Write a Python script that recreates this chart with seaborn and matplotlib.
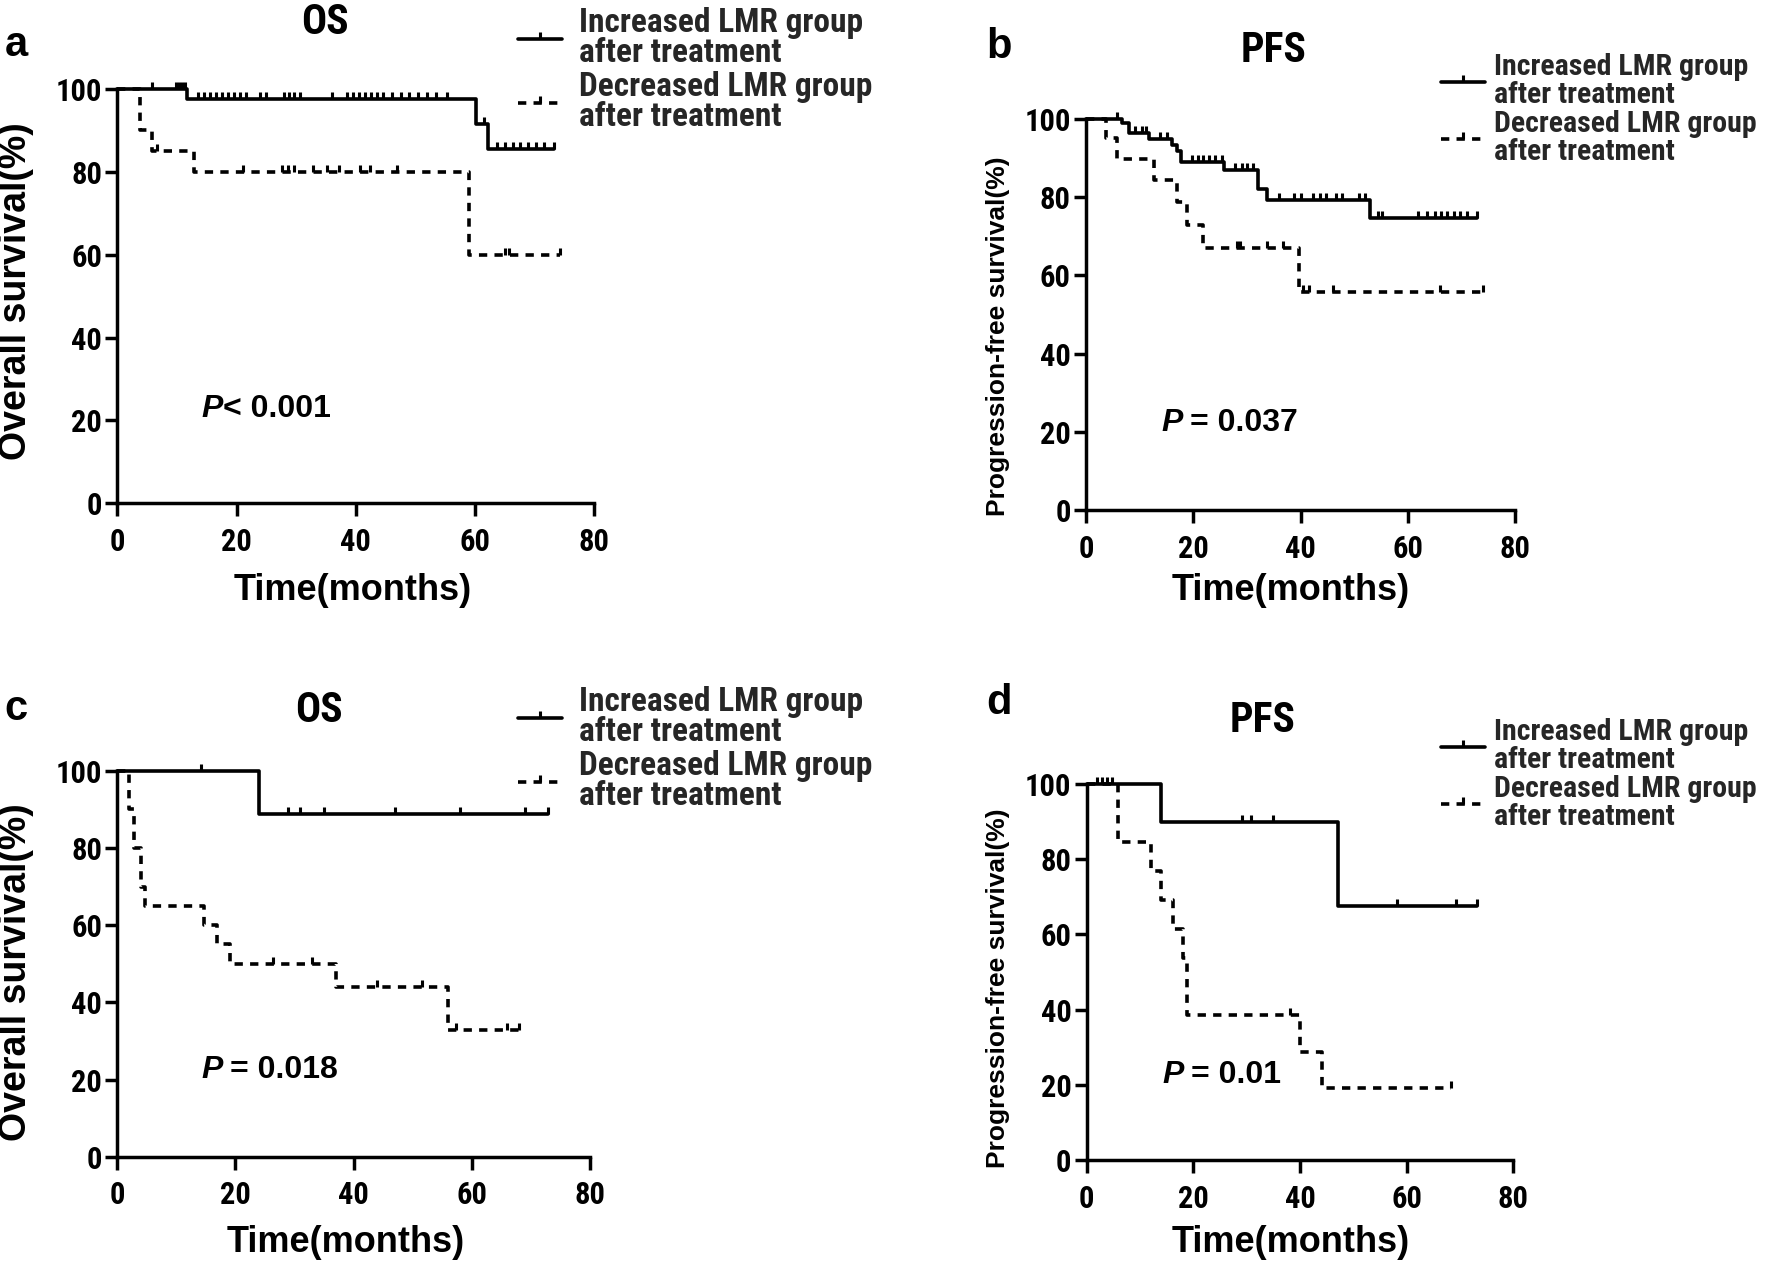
import numpy as np
import pandas as pd
import matplotlib
matplotlib.use("Agg")
import matplotlib.pyplot as plt
import seaborn as sns
from matplotlib.path import Path
from matplotlib.lines import Line2D
from matplotlib import font_manager as fm

# ---------------- data ----------------
x_ticks = [0, 20, 40, 60, 80]
y_ticks = [0, 20, 40, 60, 80, 100]
legend_labels = ["Increased LMR group\nafter treatment", "Decreased LMR group\nafter treatment"]
panel_letters = ["a", "b", "c", "d"]
panel_titles = ["OS", "PFS", "OS", "PFS"]
y_labels = ["Overall survival(%)", "Progression-free survival(%)",
            "Overall survival(%)", "Progression-free survival(%)"]
x_label = "Time(months)"
p_values = ["< 0.001", " = 0.037", " = 0.018", " = 0.01"]

# panel a (OS)
a_inc_time = [0, 11.7, 60.2, 62.1]
a_inc_surv = [100, 97.6, 91.5, 85.4]
a_inc_end = 73.2
a_inc_cens = [5.9, 9.8, 10.3, 10.8, 11.3, 13.6, 14.6, 15.6, 16.6, 17.6, 18.6, 19.6,
              20.6, 21.6, 24.0, 25.0, 27.9, 28.8, 29.7, 30.6, 36.0, 38.5, 39.5, 40.5,
              41.5, 42.5, 43.5, 44.5, 46.0, 47.5, 49.0, 50.5, 52.0, 53.5, 55.3, 61.5,
              63.6, 65.0, 66.3, 67.6, 68.9, 70.2, 71.5, 73.2]
a_dec_time = [0, 3.8, 5.9, 12.9, 59.0]
a_dec_surv = [100, 90, 85, 80, 60]
a_dec_end = 74.2
a_dec_cens = [6.6, 21.1, 27.7, 28.6, 29.6, 32.9, 35.1, 37.1, 40.7, 42.4, 46.9, 65.1, 65.7, 74.2]

# panel b (PFS)
b_inc_time = [0, 6.7, 8.1, 11.8, 16.0, 16.9, 17.7, 25.8, 32.0, 33.7, 53.0]
b_inc_surv = [100, 98.9, 96.3, 94.8, 93.4, 91.9, 89.1, 87.0, 82.0, 79.3, 74.6]
b_inc_end = 72.9
b_inc_cens = [5.8, 9.1, 10.4, 11.2, 13.8, 15.1, 19.7, 20.8, 21.9, 23.0, 24.1, 25.3,
              27.8, 29.0, 30.1, 31.1, 35.9, 38.7, 40.0, 42.4, 43.6, 44.8, 46.6, 47.8,
              50.9, 52.0, 54.5, 55.2, 62.0, 63.5, 65.0, 66.2, 67.4, 68.6, 69.8, 71.0, 72.9]
b_dec_time = [0, 3.7, 5.8, 12.7, 16.9, 18.9, 21.9, 39.8]
b_dec_surv = [100, 95.2, 89.8, 84.4, 78.9, 72.9, 66.9, 55.8]
b_dec_end = 74.1
b_dec_cens = [28.1, 28.7, 33.7, 36.8, 40.5, 41.5, 46.1, 66.0, 74.1]

# panel c (OS)
c_inc_time = [0, 24.0]
c_inc_surv = [100, 88.9]
c_inc_end = 72.9
c_inc_cens = [14.1, 28.9, 30.9, 34.9, 47.0, 58.0, 69.0, 72.9]
c_dec_time = [0, 1.9, 2.8, 4.0, 4.7, 14.7, 16.8, 19.1, 37.0, 56.0]
c_dec_surv = [100, 90, 80, 70, 65, 60, 55, 50, 43.9, 32.8]
c_dec_end = 68.0
c_dec_cens = [26.4, 32.9, 43.9, 51.5, 57.3, 65.9, 68.0]

# panel d (PFS)
d_inc_time = [0, 14.0, 47.1]
d_inc_surv = [100, 90, 67.5]
d_inc_end = 73.1
d_inc_cens = [1.9, 2.8, 3.75, 4.7, 29.1, 30.9, 35.0, 58.1, 69.3, 73.1]
d_dec_time = [0, 5.9, 12.0, 14.0, 16.1, 18.1, 18.9, 40.0, 44.1]
d_dec_surv = [100, 84.6, 76.9, 69.2, 61.5, 53.8, 38.5, 28.8, 19.2]
d_dec_end = 68.4
d_dec_cens = [38.1, 68.4]

# ---------------- style ----------------
sns.set_theme(style="white")
names = {f.name for f in fm.fontManager.ttflist}
COND = next((n for n in ["Liberation Sans Narrow", "Roboto Condensed", "DejaVu Sans Condensed"]
             if n in names), "Liberation Sans")
MAIN = "Liberation Sans" if "Liberation Sans" in names else "DejaVu Sans"
plt.rcParams["font.family"] = [MAIN, "DejaVu Sans"]

W, H = 1772, 1265
fig = plt.figure(figsize=(W / 100, H / 100), dpi=100)
fig.patch.set_facecolor("white")

LW = 2.6
SPW = 2.5
MS = 10
TICK = Path([(0, 0), (0, 1)], [Path.MOVETO, Path.LINETO])
DASH = (0, (2.3, 2.0))


def fx(px):
    return px / W


def fy(py):
    return 1 - py / H


def step_val(times, surv, x):
    v = surv[0]
    for t, s in zip(times, surv):
        if t <= x:
            v = s
    return v


def km(ax, times, surv, end, cens, dashed):
    df = pd.DataFrame({"t": list(times) + [end], "s": list(surv) + [surv[-1]]})
    sns.lineplot(data=df, x="t", y="s", ax=ax, drawstyle="steps-post", estimator=None,
                 sort=False, color="black", lw=LW, linestyle=DASH if dashed else "-",
                 clip_on=False)
    cy = [step_val(times, surv, c) for c in cens]
    ax.plot(cens, cy, ls="none", marker=TICK, ms=MS, mew=LW * 0.85, color="black",
            clip_on=False)


# axes rectangles in pixels: (x0, x80, y100, y0)
rects = [(117.3, 594.3, 89, 503.3), (1086, 1515, 119, 510),
         (117.3, 590, 770.7, 1156.7), (1086.7, 1513.3, 784, 1160)]
data = [
    (a_inc_time, a_inc_surv, a_inc_end, a_inc_cens, a_dec_time, a_dec_surv, a_dec_end, a_dec_cens),
    (b_inc_time, b_inc_surv, b_inc_end, b_inc_cens, b_dec_time, b_dec_surv, b_dec_end, b_dec_cens),
    (c_inc_time, c_inc_surv, c_inc_end, c_inc_cens, c_dec_time, c_dec_surv, c_dec_end, c_dec_cens),
    (d_inc_time, d_inc_surv, d_inc_end, d_inc_cens, d_dec_time, d_dec_surv, d_dec_end, d_dec_cens),
]
letter_pos = [(16, 45), (999, 47), (16, 709), (999, 703)]
title_pos = [(325, 23), (1274, 51), (319, 710), (1263, 721)]
ylab_pos = [(16, 291), (998, 336), (16, 972), (998, 988)]
ylab_size = [27, 19, 27, 19]
xlab_pos = [(353, 590), (1291, 591), (346, 1242), (1291, 1242)]
p_pos = [(201.7, 409), (1161.7, 422.5), (201.7, 1070), (1162.7, 1075)]
leg_pos = [(518, 7), (1441, 53), (518, 686), (1441, 718)]
leg_textpad = [0.5, 0.3, 0.5, 0.3]
leg_fs = [24, 21.5, 24, 21.5]
leg_ls = [0.92, 1.0, 0.92, 1.0]

axes = []
for i, (x0, x1, y1, y0) in enumerate(rects):
    ax = fig.add_axes([fx(x0), fy(y0), fx(x1 - x0), (y0 - y1) / H])
    ax.set_facecolor("none")
    it, is_, ie, ic, dt, ds, de, dc = data[i]
    km(ax, it, is_, ie, ic, False)
    km(ax, dt, ds, de, dc, True)
    ax.set_xlim(0, 80)
    ax.set_ylim(0, 100)
    ax.set_xticks(x_ticks)
    ax.set_yticks(y_ticks)
    ax.set_xlabel("")
    ax.set_ylabel("")
    for sp in ["top", "right"]:
        ax.spines[sp].set_visible(False)
    for sp in ["left", "bottom"]:
        ax.spines[sp].set_linewidth(SPW)
        ax.spines[sp].set_color("black")
    ax.tick_params(axis="both", direction="out", length=9, width=SPW, color="black",
                   left=True, bottom=True)
    ax.tick_params(axis="x", pad=8)
    ax.tick_params(axis="y", pad=2)
    for lab in ax.get_xticklabels() + ax.get_yticklabels():
        lab.set_fontfamily(COND)
        lab.set_fontweight("bold")
        lab.set_fontsize(22)
        lab.set_color("black")

    handles = [Line2D([0], [0], color="black", lw=LW, ls="-", marker=TICK, ms=MS, mew=LW * 0.85),
               Line2D([0], [0], color="black", lw=LW, ls=DASH, marker=TICK, ms=MS, mew=LW * 0.85)]
    lx, ly = leg_pos[i]
    hl = 44 / (leg_fs[i] * 100 / 72)
    leg = ax.legend(handles, legend_labels, loc="upper left", bbox_to_anchor=(fx(lx), fy(ly)),
                    bbox_transform=fig.transFigure, frameon=False, borderpad=0,
                    borderaxespad=0, handlelength=hl, handletextpad=leg_textpad[i],
                    labelspacing=0.05, numpoints=1,
                    prop={"family": COND, "weight": "bold", "size": leg_fs[i]})
    for t in leg.get_texts():
        t.set_linespacing(leg_ls[i])
    axes.append(ax)

    fig.text(fx(letter_pos[i][0]), fy(letter_pos[i][1]), panel_letters[i], ha="center",
             va="center", fontsize=30, fontweight="bold", color="black")
    fig.text(fx(title_pos[i][0]), fy(title_pos[i][1]), panel_titles[i], ha="center",
             va="center", fontsize=30, fontweight="bold", family=COND, color="black")
    fig.text(fx(ylab_pos[i][0]), fy(ylab_pos[i][1]), y_labels[i], ha="center", va="center",
             rotation=90, fontsize=ylab_size[i], fontweight="bold", color="black")
    fig.text(fx(xlab_pos[i][0]), fy(xlab_pos[i][1]), x_label, ha="center", va="center",
             fontsize=26, fontweight="bold", color="black")

# P-value annotations: italic P followed by value
renderer = fig.canvas.get_renderer()
for i in range(4):
    px, py = p_pos[i]
    tp = fig.text(fx(px), fy(py), "P", ha="left", va="center", fontsize=23,
                  fontweight="bold", style="italic", color="black")
    bb = tp.get_window_extent(renderer=renderer)
    rest = p_values[i]
    extra = 0
    if rest.startswith(" "):
        extra = 7
        rest = rest.strip()
    fig.text((bb.x1 + extra) / W, fy(py), rest, ha="left", va="center", fontsize=23,
             fontweight="bold", color="black")

fig.savefig("out.png", dpi=100, facecolor="white")
